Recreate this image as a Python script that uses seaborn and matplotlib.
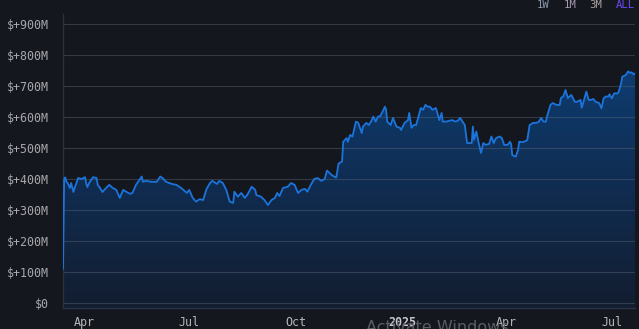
import numpy as np
import pandas as pd
import matplotlib
matplotlib.use("Agg")
import matplotlib.pyplot as plt
import matplotlib.dates as mdates
from matplotlib.colors import LinearSegmentedColormap
import seaborn as sns

# ---- data ----
dates = [
    "2024-03-14", "2024-03-15", "2024-03-16", "2024-03-17", "2024-03-18", "2024-03-20", "2024-03-21",
    "2024-03-23", "2024-03-24", "2024-03-26", "2024-03-27", "2024-03-30", "2024-04-02", "2024-04-03",
    "2024-04-04", "2024-04-06", "2024-04-09", "2024-04-12", "2024-04-13", "2024-04-15", "2024-04-17",
    "2024-04-21", "2024-04-23", "2024-04-26", "2024-04-29", "2024-05-02", "2024-05-05", "2024-05-08",
    "2024-05-11", "2024-05-13", "2024-05-16", "2024-05-21", "2024-05-22", "2024-05-25", "2024-05-29",
    "2024-06-03", "2024-06-06", "2024-06-08", "2024-06-11", "2024-06-16", "2024-06-20", "2024-06-24",
    "2024-06-29", "2024-07-01", "2024-07-04", "2024-07-07", "2024-07-10", "2024-07-13", "2024-07-16",
    "2024-07-19", "2024-07-21", "2024-07-25", "2024-07-27", "2024-07-30", "2024-08-02", "2024-08-05",
    "2024-08-08", "2024-08-09", "2024-08-12", "2024-08-15", "2024-08-18", "2024-08-20", "2024-08-24",
    "2024-08-27", "2024-08-28", "2024-09-01", "2024-09-04", "2024-09-07", "2024-09-10", "2024-09-13",
    "2024-09-15", "2024-09-17", "2024-09-20", "2024-09-24", "2024-09-27", "2024-09-30", "2024-10-03",
    "2024-10-06", "2024-10-09", "2024-10-11", "2024-10-14", "2024-10-17", "2024-10-20", "2024-10-23",
    "2024-10-26", "2024-10-28", "2024-11-01", "2024-11-04", "2024-11-05", "2024-11-07", "2024-11-10",
    "2024-11-11", "2024-11-14", "2024-11-15", "2024-11-17", "2024-11-19", "2024-11-21", "2024-11-22",
    "2024-11-24", "2024-11-27", "2024-11-28", "2024-12-01", "2024-12-03", "2024-12-05", "2024-12-07",
    "2024-12-09", "2024-12-11", "2024-12-13", "2024-12-15", "2024-12-17", "2024-12-18", "2024-12-19",
    "2024-12-22", "2024-12-24", "2024-12-27", "2024-12-30", "2024-12-31", "2025-01-03", "2025-01-06",
    "2025-01-07", "2025-01-09", "2025-01-11", "2025-01-13", "2025-01-15", "2025-01-17", "2025-01-19",
    "2025-01-21", "2025-01-23", "2025-01-25", "2025-01-27", "2025-01-30", "2025-01-31", "2025-02-02",
    "2025-02-04", "2025-02-05", "2025-02-08", "2025-02-11", "2025-02-13", "2025-02-16", "2025-02-18",
    "2025-02-20", "2025-02-22", "2025-02-24", "2025-02-26", "2025-03-02", "2025-03-03", "2025-03-04",
    "2025-03-06", "2025-03-08", "2025-03-10", "2025-03-12", "2025-03-14", "2025-03-17", "2025-03-19",
    "2025-03-21", "2025-03-23", "2025-03-26", "2025-03-28", "2025-03-30", "2025-04-02", "2025-04-04",
    "2025-04-05", "2025-04-06", "2025-04-09", "2025-04-11", "2025-04-12", "2025-04-15", "2025-04-18",
    "2025-04-19", "2025-04-21", "2025-04-24", "2025-04-27", "2025-04-29", "2025-05-01", "2025-05-03",
    "2025-05-05", "2025-05-06", "2025-05-09", "2025-05-11", "2025-05-14", "2025-05-17", "2025-05-18",
    "2025-05-20", "2025-05-22", "2025-05-24", "2025-05-27", "2025-05-30", "2025-06-01", "2025-06-04",
    "2025-06-05", "2025-06-07", "2025-06-09", "2025-06-11", "2025-06-13", "2025-06-15", "2025-06-17",
    "2025-06-20", "2025-06-22", "2025-06-24", "2025-06-26", "2025-06-28", "2025-06-29", "2025-07-01",
    "2025-07-03", "2025-07-06", "2025-07-07", "2025-07-09", "2025-07-10", "2025-07-13", "2025-07-15",
    "2025-07-17", "2025-07-18", "2025-07-20", "2025-07-21",
]
values_m = [
    110, 400, 405, 391, 387, 371, 387,
    358, 371, 391, 403, 400, 406, 387,
    374, 390, 406, 403, 381, 371, 358,
    374, 381, 371, 365, 339, 365, 358,
    352, 355, 381, 408, 391, 394, 391,
    391, 408, 403, 391, 384, 381, 371,
    355, 365, 339, 327, 335, 332, 368,
    387, 394, 384, 394, 387, 365, 327,
    323, 359, 343, 355, 339, 348, 375,
    365, 348, 343, 332, 316, 332, 339,
    355, 345, 371, 375, 387, 381, 355,
    365, 368, 359, 381, 400, 403, 394,
    400, 427, 413, 406, 405, 450, 456,
    520, 532, 520, 542, 537, 569, 585,
    581, 548, 569, 581, 574, 585, 601,
    585, 601, 603, 617, 633, 623, 585,
    574, 597, 569, 565, 558, 581, 590,
    613, 565, 574, 574, 601, 629, 623,
    639, 633, 633, 623, 629, 617, 590,
    613, 585, 585, 588, 590, 585, 588,
    597, 585, 574, 516, 516, 569, 526,
    553, 516, 484, 516, 510, 513, 537,
    516, 532, 537, 532, 510, 510, 520,
    513, 477, 472, 494, 520, 519, 523,
    526, 574, 581, 581, 585, 597, 585,
    585, 601, 639, 645, 639, 639, 661,
    666, 687, 661, 671, 649, 649, 655,
    630, 655, 682, 655, 655, 658, 649,
    645, 628, 661, 666, 666, 673, 660,
    676, 676, 682, 708, 730, 735, 747,
    742, 744, 737, 741,
]
y_ticks_m = [0, 100, 200, 300, 400, 500, 600, 700, 800, 900]
y_tick_labels = ["$0", "$+100M", "$+200M", "$+300M", "$+400M", "$+500M",
                 "$+600M", "$+700M", "$+800M", "$+900M"]
x_tick_dates = ["2024-04-01", "2024-07-01", "2024-10-01", "2025-01-01", "2025-04-01", "2025-07-01"]
x_tick_labels = ["Apr", "Jul", "Oct", "2025", "Apr", "Jul"]
range_buttons = ["1W", "1M", "3M", "ALL"]

df = pd.DataFrame({"date": pd.to_datetime(dates), "value": values_m})

BG = "#15171e"
LINE = "#1b74dc"
TXT = "#a8a8ad"

sns.set_theme(style="dark")
plt.rcParams["font.family"] = ["DejaVu Sans Mono", "DejaVu Sans"]

fig = plt.figure(figsize=(6.39, 3.29), dpi=100, facecolor=BG)
ax = fig.add_axes([63 / 639, 21 / 329, 572 / 639, 294 / 329])
ax.set_facecolor(BG)

x = mdates.date2num(df["date"])
y = np.array(df["value"], dtype=float)

ymin, ymax = -16, 932
x0, x1 = x[0], x[-1]
ax.set_xlim(x0, x1)
ax.set_ylim(ymin, ymax)

# gradient fill under the line
poly = ax.fill_between(x, y, ymin, color="none", lw=0)
cmap = LinearSegmentedColormap.from_list("g", ["#131d30", "#102c50", "#0e3c70"])
grad = np.linspace(0, 1, 256).reshape(-1, 1)
img = ax.imshow(grad, extent=[x0, x1, ymin, max(y)], origin="lower", aspect="auto",
                cmap=cmap, zorder=1)
img.set_clip_path(poly.get_paths()[0], transform=ax.transData)

sns.lineplot(data=df.assign(xn=x), x="xn", y="value", ax=ax, color=LINE,
             linewidth=1.3, zorder=3)

# grid
for t in y_ticks_m:
    ax.axhline(t, color="#5a6478", alpha=0.45, lw=0.8, zorder=2)

ax.set_xlim(x0, x1)
ax.set_ylim(ymin, ymax)
ax.set_yticks(y_ticks_m)
ax.set_yticklabels(y_tick_labels)
ax.set_xticks(mdates.date2num(pd.to_datetime(x_tick_dates)))
ax.set_xticklabels(x_tick_labels)
ax.tick_params(axis="y", colors=TXT, labelsize=8.4, length=0, pad=10)
ax.tick_params(axis="x", colors="#b5b5b8", labelsize=8.4, length=0, pad=6)
for lbl in ax.get_xticklabels():
    if lbl.get_text() == "2025":
        lbl.set_fontweight("bold")
        lbl.set_color("#c8c8cc")
ax.set_xlabel("")
ax.set_ylabel("")
ax.grid(False)
for s in ["top", "right"]:
    ax.spines[s].set_visible(False)
ax.spines["left"].set_color("#2b2f3f")
ax.spines["left"].set_linewidth(1)
ax.spines["bottom"].set_color("#2a3448")
ax.spines["bottom"].set_linewidth(1)

# range buttons
btn_x = [543, 570, 596, 625]
btn_c = ["#8d9bb0", "#a39aab", "#a8a0a0", "#6b4cff"]
for lab, bx, bc in zip(range_buttons, btn_x, btn_c):
    fig.text(bx / 639, 1 - 5 / 329, lab, color=bc, fontsize=7.6, ha="center", va="center")

# watermark partially visible at the bottom edge
fig.text(366 / 639, 1 - 320 / 329, "Activate Windows", color="#5a5d66", fontsize=11.5,
         ha="left", va="top", family="DejaVu Sans", zorder=0)

fig.savefig("out.png", dpi=100, facecolor=BG)
